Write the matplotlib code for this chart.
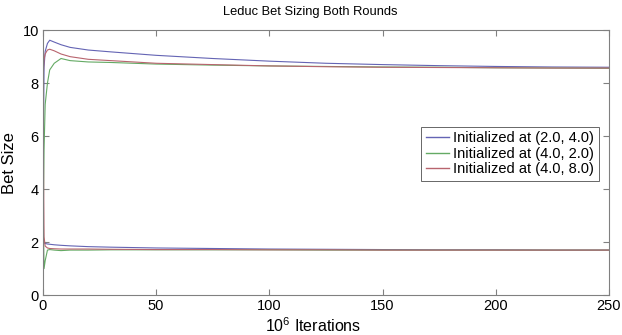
import matplotlib
matplotlib.use("Agg")
import matplotlib.pyplot as plt

plt.rcParams['font.family'] = ['Liberation Sans', 'DejaVu Sans']
plt.rcParams['mathtext.default'] = 'regular'

# iterations (x 10^6)
iters = [0, 0.5, 1, 2, 3, 5, 8, 12, 20, 30, 50, 75, 100, 125, 150, 175, 200, 225, 250]

# upper bet size curves
blue_hi = [4.0, 8.6, 9.2, 9.5, 9.62, 9.55, 9.45, 9.35, 9.25, 9.18, 9.05, 8.93, 8.83, 8.75, 8.7, 8.66, 8.63, 8.61, 8.6]
green_hi = [2.0, 5.5, 7.2, 8.0, 8.5, 8.75, 8.93, 8.85, 8.8, 8.78, 8.72, 8.68, 8.65, 8.63, 8.61, 8.6, 8.58, 8.57, 8.56]
red_hi = [8.0, 8.9, 9.1, 9.25, 9.28, 9.22, 9.1, 9.0, 8.9, 8.85, 8.75, 8.7, 8.65, 8.62, 8.6, 8.59, 8.58, 8.57, 8.57]

# lower bet size curves
blue_lo = [2.0, 1.97, 1.95, 1.93, 1.92, 1.9, 1.88, 1.86, 1.83, 1.81, 1.78, 1.76, 1.74, 1.73, 1.72, 1.71, 1.71, 1.7, 1.7]
green_lo = [4.0, 1.0, 1.3, 1.7, 1.72, 1.7, 1.68, 1.7, 1.7, 1.71, 1.71, 1.71, 1.71, 1.7, 1.7, 1.7, 1.7, 1.7, 1.7]
red_lo = [8.0, 2.2, 1.85, 1.78, 1.76, 1.75, 1.74, 1.74, 1.74, 1.73, 1.72, 1.72, 1.71, 1.71, 1.7, 1.7, 1.7, 1.7, 1.7]

labels = ['Initialized at (2.0, 4.0)', 'Initialized at (4.0, 2.0)', 'Initialized at (4.0, 8.0)']
colors = ['#6464b4', '#64aa64', '#b8646e']

fig = plt.figure(figsize=(6.22, 3.35), dpi=100)
ax = fig.add_axes([0.069, 0.119, 0.910, 0.791])

for hi, lo, c, lab in zip([blue_hi, green_hi, red_hi], [blue_lo, green_lo, red_lo], colors, labels):
    ax.plot(iters, hi, color=c, lw=0.8, label=lab)
    ax.plot(iters, lo, color=c, lw=0.8)

ax.set_xlim(0, 250)
ax.set_ylim(0, 10)
ax.set_xticks([0, 50, 100, 150, 200, 250])
ax.set_yticks([0, 2, 4, 6, 8, 10])
ax.tick_params(direction='in', length=4, color='#808080', labelsize=10.5, pad=3, top=True, right=True,
               labeltop=False, labelright=False)
for s in ax.spines.values():
    s.set_color('#808080')
    s.set_linewidth(0.8)

ax.set_title('Leduc Bet Sizing Both Rounds', fontsize=9.3, x=0.472, pad=11)
ax.set_xlabel('10$^6$ Iterations', fontsize=11.5, labelpad=0, va='center')
ax.xaxis.set_label_coords(0.478, -0.115)
ax.set_ylabel('Bet Size', fontsize=12, labelpad=4)

leg = ax.legend(loc='upper right', bbox_to_anchor=(0.982, 0.635), fontsize=10.5, frameon=True,
                fancybox=False, edgecolor='#404040', handlelength=1.6, handletextpad=0.3,
                borderpad=0.3, labelspacing=0.1, borderaxespad=0)
leg.get_frame().set_linewidth(0.7)
for ln in leg.get_lines():
    ln.set_linewidth(1.0)

fig.savefig('out.png', dpi=100)
